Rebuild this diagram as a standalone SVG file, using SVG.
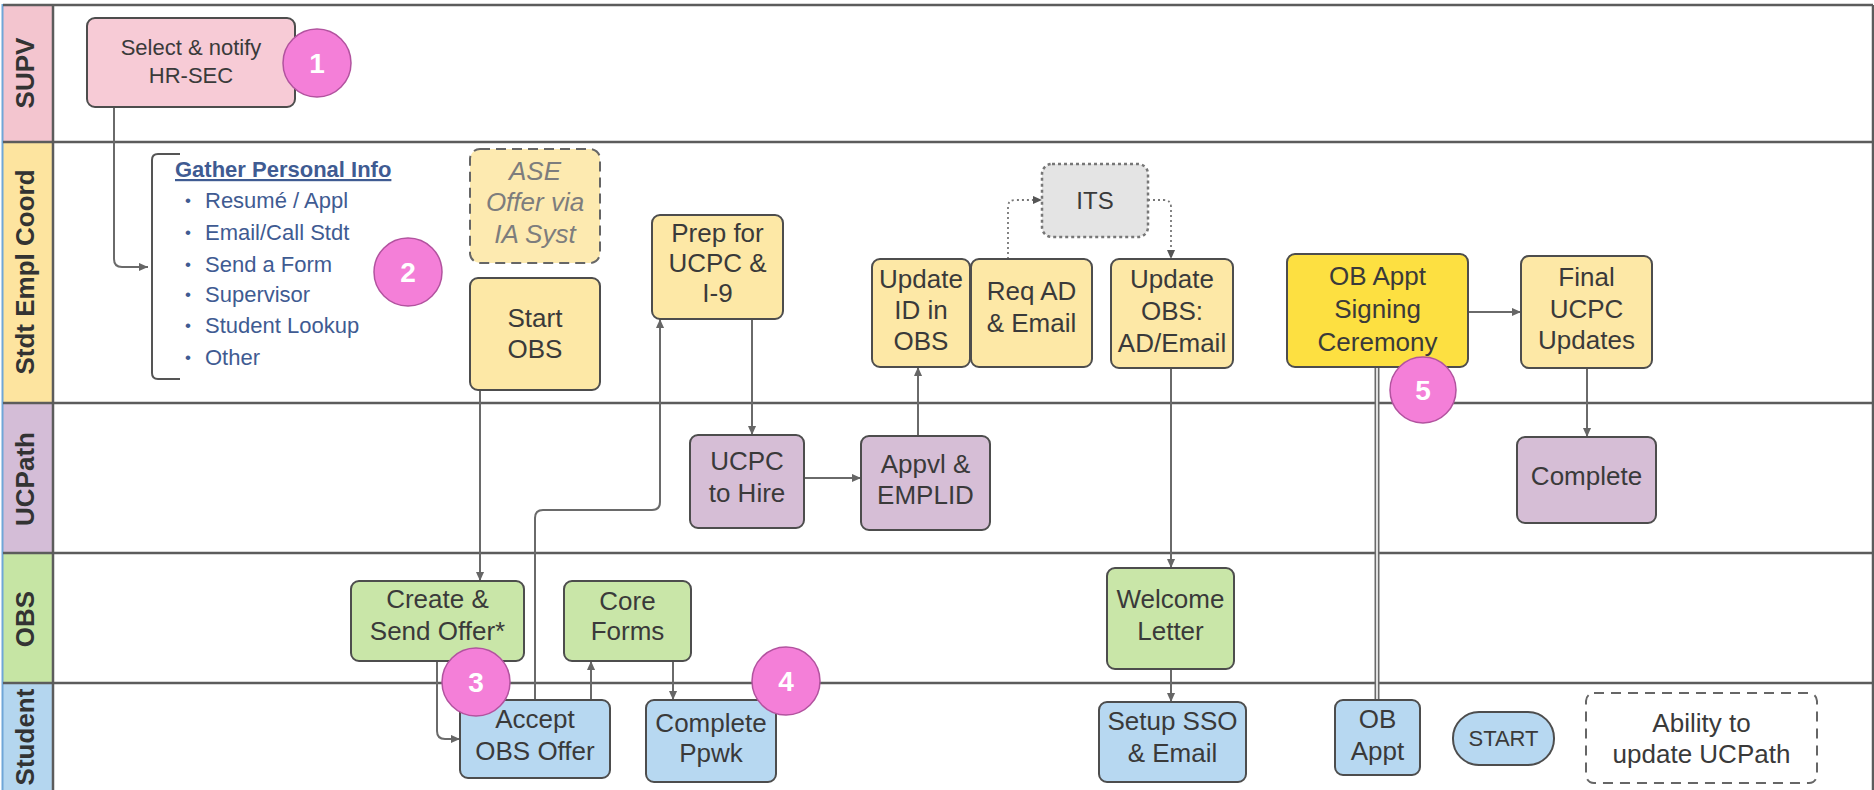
<svg xmlns="http://www.w3.org/2000/svg" width="1874" height="790" viewBox="0 0 1874 790">
<style>
text{font-family:"Liberation Sans",Arial,sans-serif;}
.hdr{font-size:26px;font-weight:bold;fill:#333;text-anchor:middle;}
.lane{stroke:#5c5c5c;stroke-width:2.5;fill:none;}
.box{stroke:#4d4d4d;stroke-width:2;}
.t{font-size:26px;fill:#3a3a3a;text-anchor:middle;}
.ty{fill:#fde8a6;}
.tg{fill:#c9e6a8;}
.tp{fill:#d6bed6;}
.tb{fill:#b7d8f1;}
.conn{stroke:#6a6a6a;stroke-width:2;fill:none;}
.dot{stroke:#777;stroke-width:1.8;fill:none;stroke-dasharray:2 3;}
.num circle{fill:#f47fd8;stroke:#b2539f;stroke-width:1.5;}
.num text{font-size:28px;font-weight:bold;fill:#fff;text-anchor:middle;}
.info{font-size:22px;fill:#3f5b92;}
.bul{font-size:17px;}
</style>
<defs>
<marker id="arr" viewBox="0 0 10 10" refX="10" refY="5" markerWidth="11" markerHeight="9" markerUnits="userSpaceOnUse" orient="auto"><path d="M0,0.5 L10,5 L0,9.5 z" fill="#666"/></marker>
<marker id="arrd" viewBox="0 0 10 10" refX="10" refY="5" markerWidth="10" markerHeight="9" markerUnits="userSpaceOnUse" orient="auto"><path d="M0,0.5 L10,5 L0,9.5 z" fill="#555"/></marker>
</defs>
<rect x="0" y="0" width="1874" height="790" fill="#fff"/>

<g id="lanes">
<rect x="3" y="5" width="50" height="137" fill="#f3c5cf"/>
<rect x="3" y="142" width="50" height="261" fill="#fde49f"/>
<rect x="3" y="403" width="50" height="150" fill="#d4bdd7"/>
<rect x="3" y="553" width="50" height="130" fill="#c6e5a4"/>
<rect x="3" y="683" width="50" height="107" fill="#b4d6ef"/>
<line x1="2.5" y1="4" x2="2.5" y2="790" stroke="#6fa6d8" stroke-width="2"/>
<line x1="53" y1="5" x2="53" y2="790" class="lane"/>
<line x1="3" y1="5" x2="1873" y2="5" class="lane"/>
<line x1="3" y1="142" x2="1873" y2="142" class="lane"/>
<line x1="3" y1="403" x2="1873" y2="403" class="lane"/>
<line x1="3" y1="553" x2="1873" y2="553" class="lane"/>
<line x1="3" y1="683" x2="1873" y2="683" class="lane"/>
<line x1="1873" y1="5" x2="1873" y2="790" class="lane"/>
<text class="hdr" transform="translate(34,73) rotate(-90)">SUPV</text>
<text class="hdr" transform="translate(34,272) rotate(-90)">Stdt Empl Coord</text>
<text class="hdr" transform="translate(34,479) rotate(-90)">UCPath</text>
<text class="hdr" transform="translate(34,619) rotate(-90)">OBS</text>
<text class="hdr" transform="translate(34,737) rotate(-90)">Student</text>
</g>

<g id="connectors">
<path class="conn" d="M114,107 V259 Q114,267 122,267 H148" marker-end="url(#arr)"/>
<path class="conn" d="M480,390 V581" marker-end="url(#arr)"/>
<path class="conn" d="M437,661 V731 Q437,739 445,739 H460" marker-end="url(#arr)"/>
<path class="conn" d="M535,700 V518 Q535,510 543,510 H652 Q660,510 660,502 V319" marker-end="url(#arr)"/>
<path class="conn" d="M591,700 V661" marker-end="url(#arr)"/>
<path class="conn" d="M673,661 V700" marker-end="url(#arr)"/>
<path class="conn" d="M752,319 V435" marker-end="url(#arr)"/>
<path class="conn" d="M804,478 H861" marker-end="url(#arr)"/>
<path class="conn" d="M918,436 V367" marker-end="url(#arr)"/>
<path class="dot" d="M1008,259 V207 Q1008,200 1015,200 H1042" marker-end="url(#arrd)"/>
<path class="dot" d="M1148,200 H1164 Q1171,200 1171,207 V259" marker-end="url(#arrd)"/>
<path class="conn" d="M1171,368 V568" marker-end="url(#arr)"/>
<path class="conn" d="M1171,669 V702" marker-end="url(#arr)"/>
<path d="M1377,367 V700" stroke="#6a6a6a" stroke-width="5" fill="none"/>
<path d="M1377,367 V700" stroke="#fff" stroke-width="1.6" fill="none"/>
<path class="conn" d="M1468,312 H1521" marker-end="url(#arr)"/>
<path class="conn" d="M1587,368 V437" marker-end="url(#arr)"/>
</g>

<g id="n-select">
<rect x="87" y="18" width="208" height="89" rx="8" class="box" fill="#f7cbd6"/>
<text class="t" style="font-size:22px" x="191" y="55">Select &amp; notify</text>
<text class="t" style="font-size:22px" x="191" y="83">HR-SEC</text>
</g>

<g id="n-gather">
<path d="M180,154 H158 Q152,154 152,160 V373 Q152,379 158,379 H180" stroke="#555" stroke-width="2" fill="none"/>
<text class="info" x="175" y="177" style="font-weight:bold" text-decoration="underline">Gather Personal Info</text>
<g class="info">
<text class="bul" x="185" y="206">•</text><text x="205" y="208">Resumé / Appl</text>
<text class="bul" x="185" y="238">•</text><text x="205" y="240">Email/Call Stdt</text>
<text class="bul" x="185" y="270">•</text><text x="205" y="272">Send a Form</text>
<text class="bul" x="185" y="300">•</text><text x="205" y="302">Supervisor</text>
<text class="bul" x="185" y="331">•</text><text x="205" y="333">Student Lookup</text>
<text class="bul" x="185" y="363">•</text><text x="205" y="365">Other</text>
</g>
</g>

<g id="n-ase">
<rect x="470" y="149" width="130" height="114" rx="10" fill="#fdeab0" stroke="#666" stroke-width="2" stroke-dasharray="10 6"/>
<text class="t" x="535" y="180" style="font-style:italic;fill:#7d7d7d">ASE</text>
<text class="t" x="535" y="211" style="font-style:italic;fill:#7d7d7d">Offer via</text>
<text class="t" x="535" y="243" style="font-style:italic;fill:#7d7d7d">IA Syst</text>
</g>

<g id="n-startobs">
<rect x="470" y="278" width="130" height="112" rx="8" class="box ty"/>
<text class="t" x="535" y="327">Start</text>
<text class="t" x="535" y="358">OBS</text>
</g>

<g id="n-prep">
<rect x="652" y="215" width="131" height="104" rx="8" class="box ty"/>
<text class="t" x="717.5" y="242">Prep for</text>
<text class="t" x="717.5" y="272">UCPC &amp;</text>
<text class="t" x="717.5" y="302">I-9</text>
</g>

<g id="n-updateid">
<rect x="872" y="259" width="98" height="108" rx="8" class="box ty"/>
<text class="t" x="921" y="288">Update</text>
<text class="t" x="921" y="319">ID in</text>
<text class="t" x="921" y="350">OBS</text>
</g>

<g id="n-reqad">
<rect x="971" y="259" width="121" height="108" rx="8" class="box ty"/>
<text class="t" x="1031.5" y="300">Req AD</text>
<text class="t" x="1031.5" y="332">&amp; Email</text>
</g>

<g id="n-its">
<rect x="1042" y="164" width="106" height="73" rx="10" fill="#e4e4e4" stroke="#777" stroke-width="2.5" stroke-dasharray="3 3"/>
<text class="t" x="1095" y="209" style="font-size:24px">ITS</text>
</g>

<g id="n-updateobs">
<rect x="1111" y="259" width="122" height="109" rx="8" class="box ty"/>
<text class="t" x="1172" y="288">Update</text>
<text class="t" x="1172" y="320">OBS:</text>
<text class="t" x="1172" y="352">AD/Email</text>
</g>

<g id="n-obsign">
<rect x="1287" y="254" width="181" height="113" rx="8" class="box" fill="#fde041"/>
<text class="t" x="1377.5" y="285">OB Appt</text>
<text class="t" x="1377.5" y="318">Signing</text>
<text class="t" x="1377.5" y="351">Ceremony</text>
</g>

<g id="n-final">
<rect x="1521" y="256" width="131" height="112" rx="8" class="box ty"/>
<text class="t" x="1586.5" y="286">Final</text>
<text class="t" x="1586.5" y="318">UCPC</text>
<text class="t" x="1586.5" y="349">Updates</text>
</g>

<g id="n-ucpchire">
<rect x="690" y="435" width="114" height="93" rx="8" class="box tp"/>
<text class="t" x="747" y="470">UCPC</text>
<text class="t" x="747" y="502">to Hire</text>
</g>

<g id="n-appvl">
<rect x="861" y="436" width="129" height="94" rx="8" class="box tp"/>
<text class="t" x="925.5" y="473">Appvl &amp;</text>
<text class="t" x="925.5" y="504">EMPLID</text>
</g>

<g id="n-complete">
<rect x="1517" y="437" width="139" height="86" rx="8" class="box tp"/>
<text class="t" x="1586.5" y="485">Complete</text>
</g>

<g id="n-create">
<rect x="351" y="581" width="173" height="80" rx="8" class="box tg"/>
<text class="t" x="437.5" y="608">Create &amp;</text>
<text class="t" x="437.5" y="640">Send Offer*</text>
</g>

<g id="n-core">
<rect x="564" y="581" width="127" height="80" rx="8" class="box tg"/>
<text class="t" x="627.5" y="610">Core</text>
<text class="t" x="627.5" y="640">Forms</text>
</g>

<g id="n-welcome">
<rect x="1107" y="568" width="127" height="101" rx="8" class="box tg"/>
<text class="t" x="1170.5" y="608">Welcome</text>
<text class="t" x="1170.5" y="640">Letter</text>
</g>

<g id="n-accept">
<rect x="460" y="700" width="150" height="78" rx="8" class="box tb"/>
<text class="t" x="535" y="728">Accept</text>
<text class="t" x="535" y="760">OBS Offer</text>
</g>

<g id="n-ppwk">
<rect x="646" y="700" width="130" height="82" rx="8" class="box tb"/>
<text class="t" x="711" y="732">Complete</text>
<text class="t" x="711" y="762">Ppwk</text>
</g>

<g id="n-setup">
<rect x="1099" y="702" width="147" height="80" rx="8" class="box tb"/>
<text class="t" x="1172.5" y="730">Setup SSO</text>
<text class="t" x="1172.5" y="762">&amp; Email</text>
</g>

<g id="n-obappt">
<rect x="1335" y="700" width="85" height="75" rx="8" class="box tb"/>
<text class="t" x="1377.5" y="728">OB</text>
<text class="t" x="1377.5" y="760">Appt</text>
</g>

<g id="n-start">
<rect x="1453" y="712" width="101" height="53" rx="26" class="box tb"/>
<text class="t" x="1503.5" y="746" style="font-size:22px">START</text>
</g>

<g id="n-ability">
<rect x="1586" y="693" width="231" height="90" rx="8" fill="#fff" stroke="#666" stroke-width="2" stroke-dasharray="10 7"/>
<text class="t" x="1701.5" y="732">Ability to</text>
<text class="t" x="1701.5" y="763">update UCPath</text>
</g>

<g id="n-num1" class="num"><circle cx="317" cy="63" r="34"/><text x="317" y="73">1</text></g>
<g id="n-num2" class="num"><circle cx="408" cy="272" r="34"/><text x="408" y="282">2</text></g>
<g id="n-num3" class="num"><circle cx="476" cy="682" r="34"/><text x="476" y="692">3</text></g>
<g id="n-num4" class="num"><circle cx="786" cy="681" r="34"/><text x="786" y="691">4</text></g>
<g id="n-num5" class="num"><circle cx="1423" cy="390" r="33"/><text x="1423" y="400">5</text></g>
</svg>
